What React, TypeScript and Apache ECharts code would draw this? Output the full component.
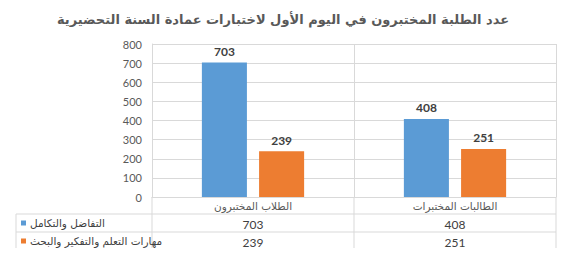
import React, { useEffect, useRef } from "react";
import * as echarts from "echarts";

const titleText = "عدد الطلبة المختبرون في اليوم الأول لاختبارات عمادة السنة التحضيرية";
const categories = ["الطلاب المختبرون", "الطالبات المختبرات"];
const seriesNames = ["التفاضل والتكامل", "مهارات التعلم والتفكير والبحث"];
const calculusValues = [703, 408];
const skillsValues = [239, 251];
const seriesColors = ["#5b9bd5", "#ed7d31"];
const yMin = 0;
const yMax = 800;
const yInterval = 100;

const W = 566;
const H = 256;
const GRID_LEFT = 152;
const GRID_RIGHT_X = 556;
const GRID_TOP = 44;
const AXIS_Y = 197;
const ROW_H = [AXIS_Y, 214, 232, 250];
const TABLE_LEFT = 16;
const LINE = "#d9d9d9";
const ARABIC = "DejaVu Sans";
const NUM = "Lato, 'Open Sans', sans-serif";

export default function App() {
  const ref = useRef<HTMLDivElement>(null);
  useEffect(() => {
    if (!ref.current) return;
    const chart = echarts.init(ref.current, undefined, { renderer: "svg" });
    const allSeries = [calculusValues, skillsValues];
    const colW = (GRID_RIGHT_X - GRID_LEFT) / categories.length;
    const graphics: any[] = [];
    for (let r = 1; r < ROW_H.length; r++) {
      graphics.push({
        type: "line",
        shape: { x1: TABLE_LEFT, y1: ROW_H[r], x2: GRID_RIGHT_X, y2: ROW_H[r] },
        style: { stroke: LINE, lineWidth: 1 },
        silent: true,
      });
    }
    graphics.push({
      type: "line",
      shape: { x1: TABLE_LEFT, y1: ROW_H[1], x2: TABLE_LEFT, y2: ROW_H[3] },
      style: { stroke: LINE, lineWidth: 1 },
    });
    for (let c = 0; c <= categories.length; c++) {
      const x = GRID_LEFT + c * colW;
      graphics.push({
        type: "line",
        shape: { x1: x, y1: AXIS_Y, x2: x, y2: ROW_H[3] },
        style: { stroke: LINE, lineWidth: 1 },
      });
    }
    categories.forEach((cat, i) => {
      graphics.push({
        type: "text",
        x: GRID_LEFT + (i + 0.5) * colW,
        y: (ROW_H[0] + ROW_H[1]) / 2,
        style: {
          text: cat,
          fontFamily: ARABIC,
          fontSize: 10.5,
          fill: "#595959",
          align: "center",
          verticalAlign: "middle",
        },
      });
    });
    seriesNames.forEach((name, s) => {
      const yc = (ROW_H[s + 1] + ROW_H[s + 2]) / 2;
      graphics.push({
        type: "rect",
        shape: { x: 21, y: yc - 2.5, width: 5, height: 5 },
        style: { fill: seriesColors[s] },
      });
      graphics.push({
        type: "text",
        x: 30,
        y: yc,
        style: {
          text: name,
          fontFamily: ARABIC,
          fontSize: 10.5,
          fill: "#404040",
          align: "left",
          verticalAlign: "middle",
        },
      });
      allSeries[s].forEach((v, i) => {
        graphics.push({
          type: "text",
          x: GRID_LEFT + (i + 0.5) * colW,
          y: yc + 1,
          style: {
            text: String(v),
            fontFamily: NUM,
            fontSize: 12,
            fill: "#404040",
            align: "center",
            verticalAlign: "middle",
          },
        });
      });
    });

    chart.setOption({
      animation: false,
      title: {
        text: titleText,
        left: "center",
        top: 8,
        textStyle: {
          fontFamily: ARABIC,
          fontSize: 13,
          fontWeight: "bold",
          color: "#595959",
        },
      },
      grid: {
        left: GRID_LEFT,
        right: W - GRID_RIGHT_X,
        top: GRID_TOP,
        bottom: H - AXIS_Y,
        containLabel: false,
      },
      xAxis: {
        type: "category",
        data: categories,
        axisLine: { show: true, lineStyle: { color: LINE } },
        axisTick: { show: false },
        axisLabel: { show: false },
        splitLine: { show: true, lineStyle: { color: LINE } },
      },
      yAxis: {
        type: "value",
        min: yMin,
        max: yMax,
        interval: yInterval,
        axisLine: { show: true, lineStyle: { color: LINE } },
        axisTick: { show: false },
        axisLabel: {
          margin: 10,
          fontFamily: NUM,
          fontSize: 11,
          color: "#595959",
        },
        splitLine: { show: true, lineStyle: { color: LINE } },
      },
      series: seriesNames.map((name, s) => ({
        name,
        type: "bar",
        data: allSeries[s],
        barWidth: "22.3%",
        barGap: "27%",
        itemStyle: { color: seriesColors[s] },
        label: {
          show: true,
          position: "top",
          distance: 5,
          fontFamily: NUM,
          fontSize: 12,
          fontWeight: "bold",
          color: "#404040",
        },
      })),
      graphic: graphics,
    });
    return () => chart.dispose();
  }, []);
  return <div ref={ref} style={{ width: W, height: H, margin: "-8px" }} />;
}
